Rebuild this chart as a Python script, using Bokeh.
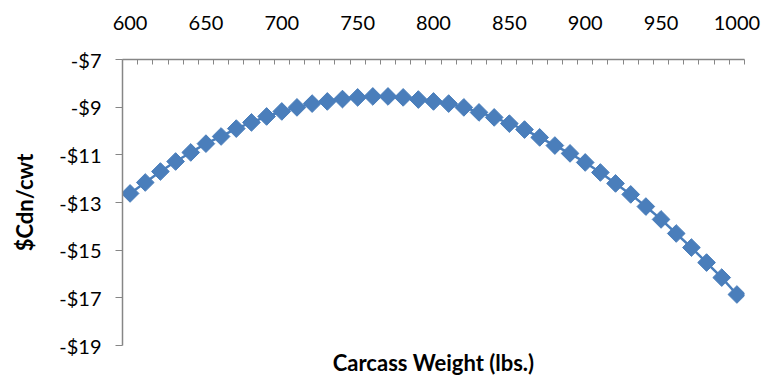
import math
from bokeh.plotting import figure
from bokeh.models import FixedTicker, Range1d, Title, ColumnDataSource
from bokeh.embed import file_html
from bokeh.resources import INLINE

weights = list(range(600, 1001, 10))
values = [-12.62, -12.16, -11.70, -11.28, -10.90, -10.53, -10.23, -9.90, -9.64, -9.39,
          -9.18, -9.01, -8.85, -8.76, -8.66, -8.59, -8.55, -8.55, -8.59, -8.68,
          -8.76, -8.85, -9.01, -9.22, -9.43, -9.69, -9.94, -10.27, -10.61, -10.94,
          -11.32, -11.74, -12.20, -12.66, -13.17, -13.71, -14.30, -14.89, -15.52, -16.15,
          -16.86]
x_labels = [600, 650, 700, 750, 800, 850, 900, 950, 1000]
y_ticks = [-7, -9, -11, -13, -15, -17, -19]

FONT = "Lato"
AXIS_COLOR = "#868686"
BLUE = "#4a7ebb"

src = ColumnDataSource(dict(x=weights, y=values))

p = figure(width=763, height=383, output_backend="svg", toolbar_location=None,
           x_axis_location="above",
           x_range=Range1d(595, 1005), y_range=Range1d(-19, -7),
           min_border_left=122, min_border_right=19, min_border_top=59, min_border_bottom=38)
p.outline_line_color = None
p.grid.visible = False
p.background_fill_color = "white"
p.border_fill_color = "white"

p.line("x", "y", source=src, line_color=BLUE, line_width=2.5)
p.scatter("x", "y", source=src, marker="square", size=12.5, angle=math.pi / 4,
          fill_color=BLUE, line_color=BLUE, line_width=1)

xa = p.xaxis[0]
xa.ticker = FixedTicker(ticks=x_labels, minor_ticks=[595 + 10 * i for i in range(42)])
xa.major_tick_in = 0
xa.major_tick_out = 0
xa.minor_tick_in = 5
xa.minor_tick_out = 0
xa.minor_tick_line_color = AXIS_COLOR
xa.axis_line_color = AXIS_COLOR
xa.axis_line_width = 1.5
xa.major_label_text_font = FONT
xa.major_label_text_font_size = "20px"
xa.major_label_text_color = "black"
xa.major_label_standoff = 30

ya = p.yaxis[0]
ya.ticker = FixedTicker(ticks=y_ticks, minor_ticks=[])
ya.major_label_overrides = {t: "-$" + str(abs(t)) for t in y_ticks}
ya.major_tick_in = 0
ya.major_tick_out = 7
ya.major_tick_line_color = AXIS_COLOR
ya.minor_tick_line_color = None
ya.axis_line_color = AXIS_COLOR
ya.axis_line_width = 1.5
ya.major_label_text_font = FONT
ya.major_label_text_font_size = "20px"
ya.major_label_text_color = "black"
ya.major_label_standoff = 14
ya.axis_label = "$Cdn/cwt"
ya.axis_label_text_font = FONT
ya.axis_label_text_font_size = "22px"
ya.axis_label_text_font_style = "bold"
ya.axis_label_text_color = "black"
ya.axis_label_standoff = 18

p.add_layout(Title(text="Carcass Weight (lbs.)", align="center", text_font=FONT,
                   text_font_size="22px", text_font_style="bold", text_color="black",
                   standoff=2), "below")

open("out.html", "w").write(file_html(p, INLINE))
